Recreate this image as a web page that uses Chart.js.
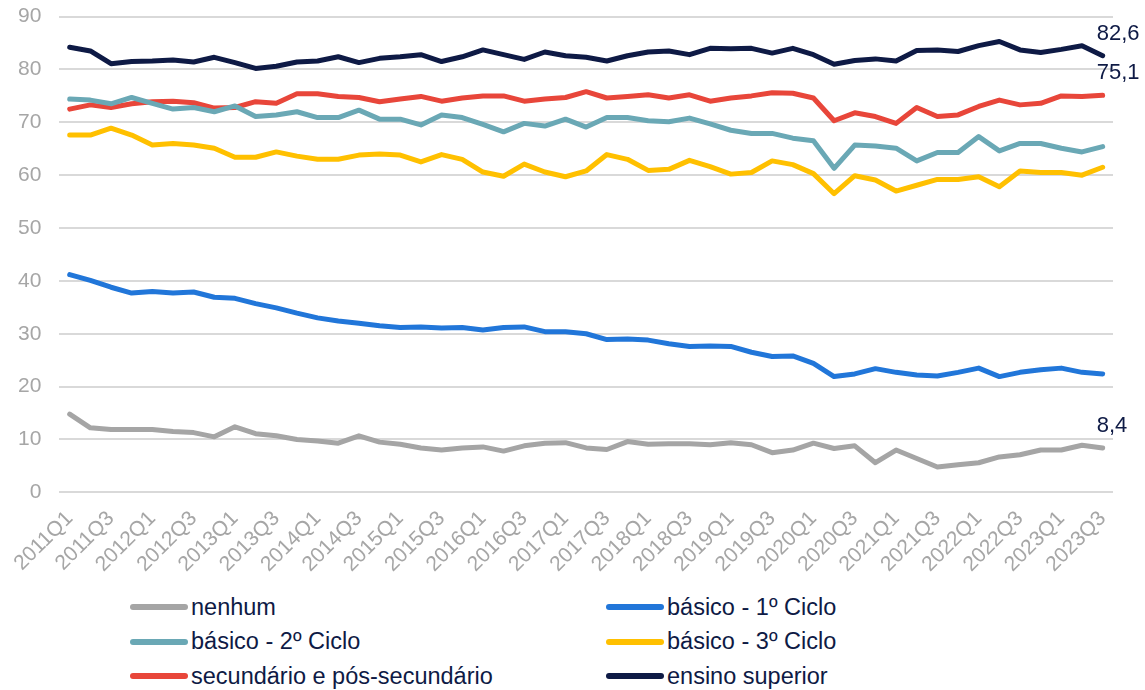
<!DOCTYPE html>
<html>
<head>
<meta charset="utf-8">
<script src="https://cdn.jsdelivr.net/npm/chart.js@4/dist/chart.umd.min.js"></script>
<style>
  body { margin: 0; background: #fff; font-family: Arial, "Liberation Sans", sans-serif; overflow: hidden; }
  #wrap { position: relative; width: 1145px; height: 690px; overflow: hidden; }
  #box { position: absolute; left: 0; top: -14px; width: 1145px; height: 597px; }
  #legend { position: absolute; left: 130px; top: 593px; width: 1000px; }
  .item { position: absolute; display: flex; align-items: center; font-size: 23.5px; color: #0e1a45; white-space: nowrap; height: 28px; }
  .item span.line { display: inline-block; width: 58px; height: 6px; border-radius: 3px; margin-right: 3px; }
</style>
</head>
<body>
<div id="wrap">
  <div id="box"><canvas id="chart"></canvas></div>
  <div id="legend"></div>
</div>
<script>
const quarters = [
  '2011Q1','2011Q2','2011Q3','2011Q4','2012Q1','2012Q2','2012Q3','2012Q4',
  '2013Q1','2013Q2','2013Q3','2013Q4','2014Q1','2014Q2','2014Q3','2014Q4',
  '2015Q1','2015Q2','2015Q3','2015Q4','2016Q1','2016Q2','2016Q3','2016Q4',
  '2017Q1','2017Q2','2017Q3','2017Q4','2018Q1','2018Q2','2018Q3','2018Q4',
  '2019Q1','2019Q2','2019Q3','2019Q4','2020Q1','2020Q2','2020Q3','2020Q4',
  '2021Q1','2021Q2','2021Q3','2021Q4','2022Q1','2022Q2','2022Q3','2022Q4',
  '2023Q1','2023Q2','2023Q3'
];

const seriesNames = ['nenhum', 'básico - 1º Ciclo', 'básico - 2º Ciclo', 'básico - 3º Ciclo',
  'secundário e pós-secundário', 'ensino superior'];
const seriesColors = ['#a5a5a5', '#2176d9', '#6aa8b5', '#ffc000', '#e8463a', '#0e1a45'];

const nenhum = [14.8,12.2,11.9,11.9,11.9,11.5,11.3,10.5,12.4,11.1,10.7,10.0,9.7,9.3,10.7,9.5,9.1,
  8.4,8.0,8.4,8.6,7.8,8.8,9.3,9.4,8.4,8.1,9.6,9.1,9.2,9.2,9.0,9.4,9.0,
  7.5,8.0,9.3,8.3,8.8,5.6,8.0,6.4,4.8,5.2,5.6,6.7,7.1,8.0,8.0,8.9,8.4];
const ciclo1 = [41.2,40.1,38.8,37.7,38.0,37.7,37.9,36.9,36.7,35.7,34.9,33.9,33.0,32.4,32.0,31.5,31.2,
  31.3,31.1,31.2,30.7,31.2,31.3,30.4,30.4,30.0,28.9,29.0,28.8,28.1,27.6,27.7,27.6,26.5,
  25.7,25.8,24.4,21.9,22.4,23.4,22.7,22.2,22.0,22.7,23.5,21.9,22.7,23.2,23.5,22.7,22.4];
const ciclo2 = [74.4,74.2,73.5,74.7,73.6,72.5,72.8,72.0,73.1,71.1,71.4,72.0,70.9,70.9,72.3,70.6,70.6,
  69.5,71.4,70.9,69.6,68.2,69.8,69.3,70.6,69.1,70.9,70.9,70.3,70.1,70.8,69.7,68.5,67.9,
  67.9,67.0,66.5,61.3,65.7,65.5,65.1,62.7,64.3,64.3,67.3,64.6,66.0,66.0,65.1,64.4,65.4];
const ciclo3 = [67.6,67.6,68.9,67.6,65.7,66.0,65.7,65.1,63.4,63.4,64.4,63.6,63.0,63.0,63.8,64.0,63.8,
  62.5,63.9,63.0,60.6,59.8,62.1,60.6,59.7,60.8,63.9,63.0,60.9,61.1,62.8,61.6,60.2,60.5,
  62.7,62.0,60.3,56.5,59.9,59.1,57.0,58.1,59.2,59.2,59.7,57.8,60.8,60.5,60.5,60.0,61.5];
const secundario = [72.5,73.3,72.8,73.5,73.9,74.0,73.7,72.7,72.8,73.9,73.6,75.4,75.4,74.9,74.7,73.9,74.4,
  74.9,74.0,74.6,75.0,75.0,74.0,74.4,74.7,75.8,74.6,74.9,75.2,74.6,75.2,74.0,74.6,75.0,
  75.6,75.5,74.6,70.3,71.8,71.1,69.8,72.8,71.1,71.4,73.0,74.2,73.3,73.6,75.0,74.9,75.1];
const superior = [84.2,83.5,81.1,81.5,81.6,81.8,81.4,82.3,81.3,80.2,80.6,81.4,81.6,82.4,81.3,82.1,82.4,
  82.8,81.5,82.4,83.7,82.8,81.9,83.3,82.6,82.3,81.6,82.6,83.3,83.5,82.8,84.0,83.9,84.0,
  83.1,84.0,82.8,81.0,81.7,82.0,81.6,83.6,83.7,83.4,84.5,85.3,83.7,83.2,83.8,84.5,82.6];

const yTicks = [0, 10, 20, 30, 40, 50, 60, 70, 80, 90];
// which series get a value label at the last point
const labelledSeries = [0, 4, 5];

const allSeries = [nenhum, ciclo1, ciclo2, ciclo3, secundario, superior];

const datasets = allSeries.map((d, i) => ({
  label: seriesNames[i],
  data: d,
  borderColor: seriesColors[i],
  backgroundColor: seriesColors[i],
  borderWidth: 5,
  pointRadius: 0,
  tension: 0,
  borderCapStyle: 'round',
  borderJoinStyle: 'round'
}));

// value labels at the end of some lines
const endLabels = {
  id: 'endLabels',
  afterDatasetsDraw(chart) {
    const ctx = chart.ctx;
    ctx.save();
    ctx.font = '22px Arial, "Liberation Sans", sans-serif';
    ctx.fillStyle = '#0e1a45';
    ctx.textAlign = 'left';
    ctx.textBaseline = 'middle';
    labelledSeries.forEach(i => {
      const meta = chart.getDatasetMeta(i);
      const pt = meta.data[meta.data.length - 1];
      const v = allSeries[i][allSeries[i].length - 1];
      ctx.fillText(v.toFixed(1).replace('.', ','), pt.x - 6, pt.y - 22);
    });
    ctx.restore();
  }
};

const ctx = document.getElementById('chart').getContext('2d');
const chart = new Chart(ctx, {
  type: 'line',
  data: { labels: quarters, datasets: datasets },
  options: {
    responsive: true,
    maintainAspectRatio: false,
    animation: false,
    layout: { padding: { top: 0, right: 32, left: 0, bottom: 0 } },
    plugins: {
      legend: { display: false },
      tooltip: { enabled: false }
    },
    scales: {
      x: {
        offset: true,
        grid: { display: false },
        border: { display: false },
        ticks: {
          autoSkip: false,
          maxRotation: 45,
          minRotation: 45,
          padding: 6,
          color: '#a6a6a6',
          font: { size: 21, family: 'Arial, "Liberation Sans", sans-serif' },
          callback: function(val, idx) { return idx % 2 === 0 ? quarters[idx] : ''; }
        }
      },
      y: {
        min: 0,
        max: 90,
        afterBuildTicks: axis => { axis.ticks = yTicks.map(v => ({ value: v })); },
        grid: { color: '#d9d9d9', lineWidth: 2, drawTicks: false },
        border: { display: false },
        ticks: {
          padding: 18,
          color: '#a6a6a6',
          font: { size: 21, family: 'Arial, "Liberation Sans", sans-serif' }
        }
      }
    }
  },
  plugins: [endLabels]
});

// two-column legend built from the chart's datasets
const legend = document.getElementById('legend');
chart.data.datasets.forEach((ds, i) => {
  const el = document.createElement('div');
  el.className = 'item';
  el.style.left = (i % 2 === 0 ? 0 : 476) + 'px';
  el.style.top = (Math.floor(i / 2) * 34.5) + 'px';
  el.innerHTML = '<span class="line" style="background:' + ds.borderColor + '"></span>' + ds.label;
  legend.appendChild(el);
});
</script>
</body>
</html>
